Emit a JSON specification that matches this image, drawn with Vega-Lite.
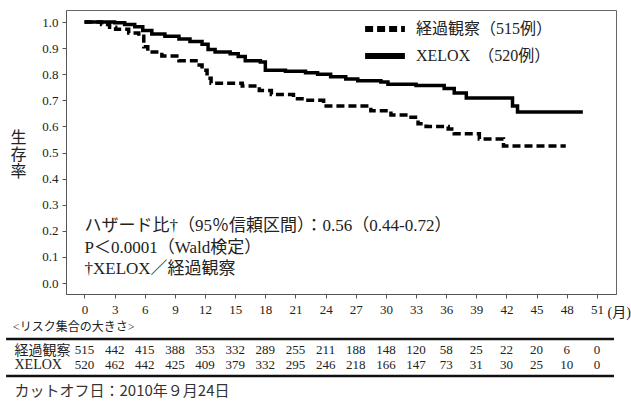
{
  "$schema": "https://vega.github.io/schema/vega-lite/v6.json",
  "padding": {"left": 4, "top": 9, "right": 0, "bottom": 0},
  "spacing": 0,
  "config": {
    "font": "Liberation Serif, Noto Sans CJK JP",
    "axis": {"labelColor": "#222", "titleColor": "#222", "grid": false},
    "title": {"color": "#222"}
  },
  "datasets": {
    "km": [
      {"group": "XELOX", "month": 0, "surv": 1.0},
      {"group": "XELOX", "month": 3, "surv": 0.997},
      {"group": "XELOX", "month": 4, "surv": 0.99},
      {"group": "XELOX", "month": 5, "surv": 0.982},
      {"group": "XELOX", "month": 5.8, "surv": 0.967},
      {"group": "XELOX", "month": 6.7, "surv": 0.954},
      {"group": "XELOX", "month": 8, "surv": 0.945},
      {"group": "XELOX", "month": 9.4, "surv": 0.935},
      {"group": "XELOX", "month": 10.5, "surv": 0.925},
      {"group": "XELOX", "month": 11.7, "surv": 0.915},
      {"group": "XELOX", "month": 12.3, "surv": 0.895},
      {"group": "XELOX", "month": 13, "surv": 0.885},
      {"group": "XELOX", "month": 14.5, "surv": 0.878},
      {"group": "XELOX", "month": 15.3, "surv": 0.868},
      {"group": "XELOX", "month": 16, "surv": 0.852},
      {"group": "XELOX", "month": 17.5, "surv": 0.847},
      {"group": "XELOX", "month": 18, "surv": 0.815},
      {"group": "XELOX", "month": 20, "surv": 0.811},
      {"group": "XELOX", "month": 22, "surv": 0.806},
      {"group": "XELOX", "month": 23.2, "surv": 0.8},
      {"group": "XELOX", "month": 24.5, "surv": 0.79},
      {"group": "XELOX", "month": 26, "surv": 0.782},
      {"group": "XELOX", "month": 27.2, "surv": 0.775},
      {"group": "XELOX", "month": 29.5, "surv": 0.77},
      {"group": "XELOX", "month": 30.2, "surv": 0.762},
      {"group": "XELOX", "month": 33, "surv": 0.757},
      {"group": "XELOX", "month": 35.8, "surv": 0.745},
      {"group": "XELOX", "month": 36.8, "surv": 0.728},
      {"group": "XELOX", "month": 38, "surv": 0.709},
      {"group": "XELOX", "month": 42.6, "surv": 0.678},
      {"group": "XELOX", "month": 43.1, "surv": 0.655},
      {"group": "XELOX", "month": 49.6, "surv": 0.655},
      {"group": "経過観察", "month": 0, "surv": 1.0},
      {"group": "経過観察", "month": 1.7, "surv": 0.99},
      {"group": "経過観察", "month": 2.5, "surv": 0.98},
      {"group": "経過観察", "month": 3.1, "surv": 0.972},
      {"group": "経過観察", "month": 4.4, "surv": 0.958},
      {"group": "経過観察", "month": 5.4, "surv": 0.945},
      {"group": "経過観察", "month": 5.9, "surv": 0.905},
      {"group": "経過観察", "month": 6.3, "surv": 0.885},
      {"group": "経過観察", "month": 7.7, "surv": 0.87},
      {"group": "経過観察", "month": 9.4, "surv": 0.852},
      {"group": "経過観察", "month": 11.1, "surv": 0.835},
      {"group": "経過観察", "month": 11.7, "surv": 0.815},
      {"group": "経過観察", "month": 12.2, "surv": 0.785},
      {"group": "経過観察", "month": 12.6, "surv": 0.765},
      {"group": "経過観察", "month": 15.7, "surv": 0.755},
      {"group": "経過観察", "month": 17.4, "surv": 0.738},
      {"group": "経過観察", "month": 18.6, "surv": 0.722},
      {"group": "経過観察", "month": 20.8, "surv": 0.706},
      {"group": "経過観察", "month": 22, "surv": 0.7},
      {"group": "経過観察", "month": 23.8, "surv": 0.678},
      {"group": "経過観察", "month": 28.5, "surv": 0.66},
      {"group": "経過観察", "month": 30.5, "surv": 0.644},
      {"group": "経過観察", "month": 32.5, "surv": 0.635},
      {"group": "経過観察", "month": 33.2, "surv": 0.61},
      {"group": "経過観察", "month": 34, "surv": 0.6},
      {"group": "経過観察", "month": 36.2, "surv": 0.59},
      {"group": "経過観察", "month": 36.8, "surv": 0.572},
      {"group": "経過観察", "month": 39.3, "surv": 0.552},
      {"group": "経過観察", "month": 41.7, "surv": 0.525},
      {"group": "経過観察", "month": 47.9, "surv": 0.525}
    ],
    "risk": [
      {"group": "経過観察", "month": 0, "n": 515},
      {"group": "経過観察", "month": 3, "n": 442},
      {"group": "経過観察", "month": 6, "n": 415},
      {"group": "経過観察", "month": 9, "n": 388},
      {"group": "経過観察", "month": 12, "n": 353},
      {"group": "経過観察", "month": 15, "n": 332},
      {"group": "経過観察", "month": 18, "n": 289},
      {"group": "経過観察", "month": 21, "n": 255},
      {"group": "経過観察", "month": 24, "n": 211},
      {"group": "経過観察", "month": 27, "n": 188},
      {"group": "経過観察", "month": 30, "n": 148},
      {"group": "経過観察", "month": 33, "n": 120},
      {"group": "経過観察", "month": 36, "n": 58},
      {"group": "経過観察", "month": 39, "n": 25},
      {"group": "経過観察", "month": 42, "n": 22},
      {"group": "経過観察", "month": 45, "n": 20},
      {"group": "経過観察", "month": 48, "n": 6},
      {"group": "経過観察", "month": 51, "n": 0},
      {"group": "XELOX", "month": 0, "n": 520},
      {"group": "XELOX", "month": 3, "n": 462},
      {"group": "XELOX", "month": 6, "n": 442},
      {"group": "XELOX", "month": 9, "n": 425},
      {"group": "XELOX", "month": 12, "n": 409},
      {"group": "XELOX", "month": 15, "n": 379},
      {"group": "XELOX", "month": 18, "n": 332},
      {"group": "XELOX", "month": 21, "n": 295},
      {"group": "XELOX", "month": 24, "n": 246},
      {"group": "XELOX", "month": 27, "n": 218},
      {"group": "XELOX", "month": 30, "n": 166},
      {"group": "XELOX", "month": 33, "n": 147},
      {"group": "XELOX", "month": 36, "n": 73},
      {"group": "XELOX", "month": 39, "n": 31},
      {"group": "XELOX", "month": 42, "n": 30},
      {"group": "XELOX", "month": 45, "n": 25},
      {"group": "XELOX", "month": 48, "n": 10},
      {"group": "XELOX", "month": 51, "n": 0}
    ]
  },
  "vconcat": [
    {
      "width": 550,
      "height": 284,
      "view": {"stroke": "#666", "strokeWidth": 1},
      "layer": [
        {
          "data": {"name": "km"},
          "mark": {"type": "line", "interpolate": "step-after", "strokeWidth": 3.5, "color": "black"},
          "encoding": {
            "x": {
              "field": "month", "type": "quantitative",
              "scale": {"domain": [-1.84, 52.9], "nice": false, "zero": false},
              "axis": {
                "values": [0, 3, 6, 9, 12, 15, 18, 21, 24, 27, 30, 33, 36, 39, 42, 45, 48, 51],
                "tickCount": 40, "labelOverlap": false,
                "title": "(月)", "titleX": 541, "titleY": 18, "titleAlign": "left", "titleBaseline": "middle",
                "titleFontSize": 14, "titleFontWeight": "normal",
                "labelFontSize": 13, "tickSize": 4, "labelPadding": 5, "labelFlush": false,
                "domainColor": "#555", "tickColor": "#555"
              }
            },
            "y": {
              "field": "surv", "type": "quantitative",
              "scale": {"domain": [-0.042, 1.046], "nice": false, "zero": false},
              "axis": {
                "values": [0, 0.1, 0.2, 0.3, 0.4, 0.5, 0.6, 0.7, 0.8, 0.9, 1.0],
                "tickCount": 30, "format": ".1f", "labelOverlap": false,
                "title": ["生", "存", "率"], "titleAngle": 0, "titleX": -48, "titleY": 127,
                "titleAlign": "center", "titleBaseline": "middle", "titleFontSize": 16,
                "titleFontWeight": "normal", "titleLineHeight": 17,
                "labelFontSize": 13, "tickSize": 4, "labelPadding": 4,
                "domainColor": "#555", "tickColor": "#555"
              }
            },
            "strokeDash": {
              "field": "group", "type": "nominal",
              "scale": {"domain": ["経過観察", "XELOX"], "range": [[8, 4], [1, 0]]},
              "legend": {
                "title": null, "orient": "none", "legendX": 311, "legendY": 11,
                "symbolType": "M-6,0H6", "symbolSize": 44, "symbolStrokeWidth": 6,
                "symbolStrokeColor": "black",
                "labelFontSize": 16, "labelOffset": 23, "labelLimit": 300, "rowPadding": 3,
                "labelColor": "#222",
                "labelExpr": "datum.label == 'XELOX' ? 'XELOX　（520例）' : '経過観察（515例）'",
                "encode": {"symbols": {"update": {"strokeDash": {"signal": "datum.value == 'XELOX' ? [1,0] : [6,3.5]"}}}}
              }
            }
          }
        },
        {
          "data": {"values": [{}]},
          "mark": {"type": "text", "align": "left", "baseline": "middle", "fontSize": 17, "lineHeight": 21.5, "color": "#222"},
          "encoding": {
            "x": {"datum": 0},
            "y": {"datum": 0.218},
            "text": {"value": ["ハザード比†（95％信頼区間）：0.56（0.44‐0.72）", "P＜0.0001（Wald検定）", "†XELOX／経過観察"]}
          }
        }
      ]
    },
    {
      "width": 550,
      "height": 37,
      "view": {"stroke": null},
      "title": {"text": "<リスク集合の大きさ>", "anchor": "start", "frame": "bounds", "fontSize": 12, "fontWeight": "normal", "offset": 4, "dx": 8},
      "layer": [
        {
          "data": {"name": "risk"},
          "mark": {"type": "text", "fontSize": 13, "color": "#222"},
          "encoding": {
            "x": {
              "field": "month", "type": "quantitative",
              "scale": {"domain": [-1.84, 52.9], "nice": false, "zero": false},
              "axis": {
                "title": "カットオフ日：2010年９月24日", "labels": false, "ticks": false, "domain": false,
                "titleX": -52, "titleY": 14, "titleAlign": "left", "titleBaseline": "middle",
                "titleFont": "Noto Sans CJK JP", "titleFontSize": 15, "titleFontWeight": "normal", "titleColor": "#333"
              }
            },
            "y": {
              "field": "group", "type": "nominal", "sort": ["経過観察", "XELOX"],
              "scale": {"padding": 0.75},
              "axis": {"title": null, "ticks": false, "domain": false, "labelAlign": "left", "labelPadding": 52, "labelFontSize": 14}
            },
            "text": {"field": "n", "type": "quantitative"}
          }
        },
        {
          "data": {"values": [{}]},
          "mark": {"type": "rule", "strokeWidth": 2.5, "color": "#111"},
          "encoding": {"x": {"datum": -7.8}, "x2": {"datum": 52.7}, "y": {"value": 0}}
        },
        {
          "data": {"values": [{}]},
          "mark": {"type": "rule", "strokeWidth": 2.5, "color": "#111"},
          "encoding": {"x": {"datum": -7.8}, "x2": {"datum": 52.7}, "y": {"value": "height"}}
        }
      ]
    }
  ]
}
